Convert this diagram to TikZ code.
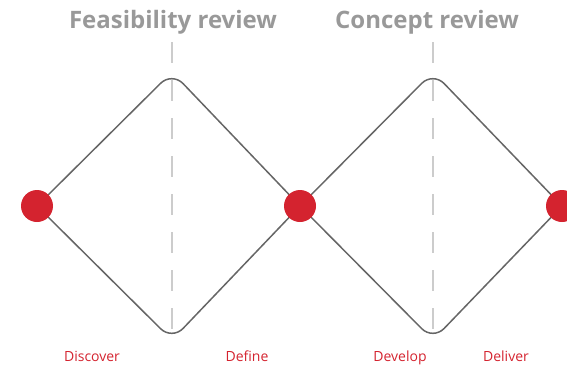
\documentclass[tikz,border=0pt]{standalone}
\usepackage{fontspec}
\setmainfont{Open Sans}
\definecolor{dotred}{HTML}{D4232F}
\definecolor{linegray}{HTML}{666666}
\definecolor{dashgray}{HTML}{CCCCCC}
\definecolor{titlegray}{HTML}{999999}

\begin{document}
\begin{tikzpicture}[x=1pt,y=-1pt,
    edge/.style={linegray, line width=1.5pt, rounded corners=16pt},
    review/.style={dashgray, line width=1.5pt, dash pattern=on 21pt off 17pt},
    dot/.style={circle, fill=dotred, minimum size=32pt, inner sep=0pt},
    title/.style={anchor=base, text=titlegray, font=\bfseries\fontsize{24}{27}\selectfont},
    phase/.style={anchor=base, text=dotred, font=\fontsize{14}{16}\selectfont}]
    \clip (0,0) rectangle (567,365);
    \useasboundingbox (0,0) rectangle (567,365);

    \coordinate (p1) at (37,206);
    \coordinate (p2) at (300,206);
    \coordinate (p3) at (562,206);
    \coordinate (top1) at (172,72);
    \coordinate (bot1) at (172,340);
    \coordinate (top2) at (433,72);
    \coordinate (bot2) at (433,340);

    \draw[review] (172,42) coordinate (r1a) -- (172,330) coordinate (r1b);
    \draw[review] (433,42) coordinate (r2a) -- (433,330) coordinate (r2b);

    \draw[edge] (p1) -- (top1) -- (p2) -- (bot2) -- (p3);
    \draw[edge] (p1) -- (bot1) -- (p2) -- (top2) -- (p3);

    \node[dot] (d1) at (p1) {};
    \node[dot] (d2) at (p2) {};
    \node[dot] (d3) at (p3) {};

    \node[title] (feas) at (173,28) {Feasibility review};
    \node[title] (conc) at (427,28) {Concept review};

    \node[phase] (disc) at (92,361) {Discover};
    \node[phase] (defi) at (247,361) {Define};
    \node[phase] (deve) at (400,361) {Develop};
    \node[phase] (deli) at (506,361) {Deliver};
\end{tikzpicture}
\end{document}
